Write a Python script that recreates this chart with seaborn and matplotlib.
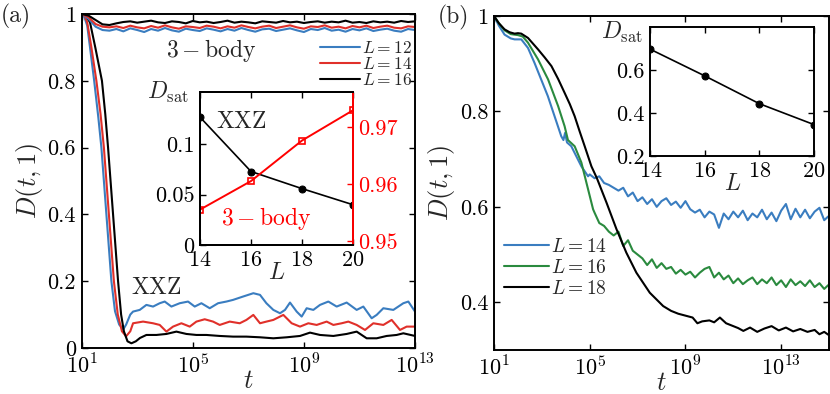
import numpy as np
import matplotlib
matplotlib.use("Agg")
import matplotlib.pyplot as plt
import seaborn as sns

# ---- panel (a): XXZ curves (log10 t, D) ----
lg_xxz12 = [1.0, 1.1, 1.2, 1.3, 1.45, 1.6, 1.71, 1.8, 1.89, 1.98, 2.07, 2.2, 2.35, 2.5, 2.6, 2.75,
            2.85, 3.09, 3.33, 3.57, 3.81, 3.99, 4.23, 4.53, 4.83, 5.07, 5.31, 5.61, 5.91, 6.21, 6.45,
            6.81, 7.18, 7.42, 7.65, 7.90, 8.14, 8.32, 8.50, 8.74, 8.92, 9.10, 9.34, 9.58, 9.88, 10.18,
            10.54, 10.90, 11.14, 11.44, 11.62, 11.86, 12.22, 12.58, 12.76, 13.0]
d_xxz12 = [1.0, 0.99, 0.965, 0.9, 0.8, 0.69, 0.6, 0.5, 0.4, 0.3, 0.2, 0.11, 0.07, 0.056, 0.07, 0.1,
           0.109, 0.114, 0.129, 0.124, 0.134, 0.139, 0.124, 0.134, 0.139, 0.124, 0.134, 0.119, 0.134,
           0.139, 0.144, 0.154, 0.164, 0.159, 0.134, 0.114, 0.104, 0.114, 0.136, 0.109, 0.094, 0.119,
           0.114, 0.129, 0.139, 0.124, 0.136, 0.114, 0.124, 0.089, 0.099, 0.119, 0.114, 0.134, 0.139,
           0.109]

lg_xxz14 = [1.0, 1.1, 1.2, 1.35, 1.53, 1.68, 1.80, 1.89, 1.98, 2.07, 2.16, 2.3, 2.45, 2.6, 2.75,
            2.85, 3.21, 3.57, 3.81, 4.05, 4.29, 4.59, 4.89, 5.13, 5.43, 5.73, 5.97, 6.33, 6.69, 6.93,
            7.18, 7.42, 7.65, 7.90, 8.26, 8.56, 8.86, 9.16, 9.46, 9.82, 10.06, 10.36, 10.60, 10.90,
            11.20, 11.50, 11.86, 12.16, 12.46, 12.70, 13.0]
d_xxz14 = [1.0, 0.995, 0.975, 0.9, 0.8, 0.7, 0.6, 0.5, 0.4, 0.3, 0.2, 0.1, 0.05, 0.035, 0.05,
           0.074, 0.079, 0.074, 0.069, 0.049, 0.064, 0.074, 0.064, 0.079, 0.086, 0.079, 0.069, 0.079,
           0.074, 0.084, 0.099, 0.074, 0.079, 0.084, 0.099, 0.074, 0.064, 0.074, 0.069, 0.079, 0.069,
           0.074, 0.079, 0.069, 0.054, 0.074, 0.069, 0.084, 0.054, 0.064, 0.064]

lg_xxz16 = [1.0, 1.15, 1.3, 1.49, 1.73, 1.85, 1.95, 2.04, 2.13, 2.22, 2.31, 2.42, 2.52, 2.65, 2.79,
            2.95, 3.1, 3.33, 3.69, 4.05, 4.41, 4.77, 5.13, 5.49, 5.97, 6.45, 6.93, 7.42, 7.90, 8.38,
            8.86, 9.22, 9.58, 10.06, 10.54, 10.90, 11.26, 11.62, 11.98, 12.34, 12.58, 13.0]
d_xxz16 = [1.0, 0.995, 0.975, 0.9, 0.8, 0.7, 0.6, 0.5, 0.4, 0.3, 0.2, 0.1, 0.05, 0.02, 0.014,
           0.02, 0.03, 0.039, 0.039, 0.042, 0.049, 0.042, 0.039, 0.039, 0.036, 0.034, 0.034, 0.032,
           0.029, 0.032, 0.036, 0.046, 0.039, 0.036, 0.042, 0.049, 0.029, 0.029, 0.036, 0.039, 0.044,
           0.036]

# ---- panel (a): 3-body curves ----
lg_3b = [1.0, 1.25, 1.5, 1.75, 2.0, 2.25, 2.5, 2.75, 3.0, 3.25, 3.5, 3.75, 4.0, 4.25, 4.5, 4.75,
         5.0, 5.25, 5.5, 5.75, 6.0, 6.25, 6.5, 6.75, 7.0, 7.25, 7.5, 7.75, 8.0, 8.25, 8.5, 8.75,
         9.0, 9.25, 9.5, 9.75, 10.0, 10.25, 10.5, 10.75, 11.0, 11.25, 11.5, 11.75, 12.0, 12.25,
         12.5, 12.75, 13.0]
d_3b12 = [1.0, 0.985, 0.962, 0.952, 0.950, 0.955, 0.948, 0.957, 0.952, 0.946, 0.955, 0.950, 0.958,
          0.951, 0.947, 0.956, 0.952, 0.949, 0.957, 0.953, 0.948, 0.955, 0.950, 0.958, 0.952, 0.947,
          0.954, 0.956, 0.949, 0.953, 0.957, 0.951, 0.946, 0.955, 0.952, 0.958, 0.950, 0.953, 0.947,
          0.955, 0.951, 0.957, 0.949, 0.953, 0.956, 0.950, 0.947, 0.955, 0.952]
d_3b14 = [1.0, 0.99, 0.970, 0.962, 0.960, 0.963, 0.958, 0.965, 0.960, 0.957, 0.964, 0.959, 0.966,
          0.960, 0.956, 0.963, 0.961, 0.958, 0.965, 0.962, 0.957, 0.963, 0.959, 0.966, 0.961, 0.957,
          0.962, 0.965, 0.958, 0.962, 0.966, 0.960, 0.956, 0.963, 0.961, 0.966, 0.959, 0.962, 0.957,
          0.964, 0.960, 0.965, 0.958, 0.962, 0.965, 0.959, 0.957, 0.963, 0.961]
d_3b16 = [1.0, 0.995, 0.982, 0.969, 0.967, 0.972, 0.976, 0.978, 0.974, 0.977, 0.980, 0.975, 0.973,
          0.978, 0.976, 0.972, 0.979, 0.975, 0.977, 0.973, 0.976, 0.980, 0.974, 0.977, 0.975, 0.972,
          0.978, 0.976, 0.974, 0.979, 0.975, 0.977, 0.973, 0.976, 0.978, 0.974, 0.977, 0.975, 0.980,
          0.974, 0.976, 0.973, 0.978, 0.975, 0.977, 0.974, 0.979, 0.976, 0.978]

# ---- inset (a) ----
L_inset_a = [14, 16, 18, 20]
dsat_xxz = [0.127, 0.073, 0.056, 0.040]
dsat_3b = [0.9555, 0.9605, 0.9676, 0.9729]

# ---- panel (b) ----
lg_b14 = [1.0, 1.2, 1.44, 1.7, 1.86, 2.14, 2.42, 2.69, 2.97, 3.25, 3.53, 3.81, 3.9, 3.97, 4.05,
          4.23, 4.37, 4.65, 4.93,
          5.0, 5.2, 5.4, 5.6, 5.8, 6.0, 6.2, 6.4, 6.6, 6.8, 7.0, 7.2, 7.4, 7.6, 7.8, 8.0, 8.2, 8.4,
          8.6, 8.8, 9.0, 9.2, 9.4, 9.6, 9.8, 10.0, 10.2, 10.4, 10.6, 10.8, 11.0, 11.2, 11.4, 11.6,
          11.8, 12.0, 12.2, 12.4, 12.6, 12.8, 13.0, 13.2, 13.4, 13.6, 13.8, 14.0, 14.2, 14.4, 14.6,
          14.8, 14.97]
d_b14 = [1.0, 0.98, 0.961, 0.953, 0.951, 0.951, 0.933, 0.902, 0.867, 0.832, 0.79, 0.748, 0.74,
         0.755, 0.735, 0.727, 0.713, 0.685, 0.664,
         0.668, 0.660, 0.664, 0.650, 0.646, 0.640, 0.634, 0.640, 0.622, 0.630, 0.612, 0.620, 0.606,
         0.616, 0.600, 0.612, 0.618, 0.604, 0.611, 0.598, 0.612, 0.595, 0.588, 0.594, 0.578, 0.590,
         0.584, 0.556, 0.586, 0.574, 0.590, 0.578, 0.592, 0.572, 0.586, 0.578, 0.594, 0.574, 0.588,
         0.570, 0.592, 0.606, 0.574, 0.596, 0.578, 0.594, 0.576, 0.590, 0.598, 0.572, 0.580]

lg_b16 = [1.0, 1.2, 1.44, 1.7, 2.0, 2.2, 2.42, 2.84, 3.26, 3.68, 3.95, 4.09, 4.37, 4.65, 4.93,
          5.14,
          5.2, 5.4, 5.6, 5.8, 6.0, 6.2, 6.4, 6.6, 6.8, 7.0, 7.2, 7.4, 7.6, 7.8, 8.0, 8.2, 8.4, 8.6,
          8.8, 9.0, 9.2, 9.4, 9.6, 9.8, 10.0, 10.2, 10.4, 10.6, 10.8, 11.0, 11.2, 11.4, 11.6, 11.8,
          12.0, 12.2, 12.4, 12.6, 12.8, 13.0, 13.2, 13.4, 13.6, 13.8, 14.0, 14.2, 14.4, 14.6, 14.8,
          14.97]
d_b16 = [1.0, 0.985, 0.97, 0.962, 0.96, 0.957, 0.944, 0.909, 0.867, 0.811, 0.769, 0.74, 0.727,
         0.693, 0.637, 0.595,
         0.588, 0.566, 0.560, 0.548, 0.540, 0.548, 0.518, 0.530, 0.508, 0.500, 0.492, 0.478, 0.490,
         0.472, 0.482, 0.470, 0.474, 0.460, 0.468, 0.458, 0.464, 0.452, 0.462, 0.470, 0.474, 0.452,
         0.462, 0.448, 0.456, 0.440, 0.450, 0.438, 0.446, 0.452, 0.438, 0.448, 0.440, 0.452, 0.436,
         0.446, 0.432, 0.448, 0.436, 0.444, 0.434, 0.446, 0.432, 0.440, 0.428, 0.436]

lg_b18 = [1.0, 1.2, 1.44, 1.65, 1.86, 2.0, 2.14, 2.42, 2.84, 3.12, 3.40, 3.68, 3.95, 4.17, 4.37,
          4.58, 4.79, 5.07, 5.30, 5.70, 6.12, 6.53, 6.95, 7.51, 8.07, 8.4, 8.7, 9.0, 9.3, 9.5, 9.7,
          10.0, 10.2, 10.44, 10.7, 10.9, 11.2, 11.42, 11.7, 12.0, 12.3, 12.6, 12.9, 13.2, 13.5, 13.8,
          14.1, 14.4, 14.6, 14.8, 14.97]
d_b18 = [1.0, 0.985, 0.972, 0.966, 0.963, 0.964, 0.963, 0.954, 0.930, 0.913, 0.895, 0.868, 0.839,
         0.815, 0.79, 0.758, 0.727, 0.685, 0.66, 0.609, 0.553, 0.504, 0.462, 0.420, 0.392, 0.382,
         0.376, 0.372, 0.368, 0.356, 0.360, 0.362, 0.358, 0.368, 0.356, 0.352, 0.346, 0.340, 0.347,
         0.338, 0.345, 0.350, 0.341, 0.347, 0.339, 0.344, 0.338, 0.342, 0.333, 0.338, 0.332]

# ---- inset (b) ----
L_inset_b = [14, 16, 18, 20]
dsat_b = [0.696, 0.572, 0.443, 0.346]

BLUE = "#3a7dc0"
RED = "#e0302a"
GREEN = "#2a8a3e"

sns.set_theme(style="ticks")
plt.rcParams["font.family"] = "serif"
plt.rcParams["font.serif"] = ["cmr10", "DejaVu Serif"]
plt.rcParams["mathtext.fontset"] = "cm"
plt.rcParams["axes.formatter.use_mathtext"] = True
plt.rcParams["axes.linewidth"] = 1.4
plt.rcParams["axes.edgecolor"] = "black"

TICK_FS = 16
LAB_FS = 19
ANN_FS = 17

fig = plt.figure(figsize=(8.3, 3.94), dpi=100)


def style_axes(ax, fs=TICK_FS):
    ax.tick_params(direction="in", top=True, right=True, length=4, width=1,
                   labelsize=fs, colors="black", pad=4)
    ax.minorticks_off()


def logline(ax, lg, d, color, label=None, lw=1.5):
    t = 10 ** np.array(lg)
    sns.lineplot(x=t, y=d, ax=ax, color=color, lw=lw, label=label,
                 estimator=None, sort=False)


# ================= panel (a) =================
ax1 = fig.add_axes([0.0984, 0.1168, 0.4016, 0.8477])
logline(ax1, lg_xxz12, d_xxz12, BLUE, "$L=12$")
logline(ax1, lg_xxz14, d_xxz14, RED, "$L=14$")
logline(ax1, lg_xxz16, d_xxz16, "black", "$L=16$")
logline(ax1, lg_3b, d_3b12, BLUE)
logline(ax1, lg_3b, d_3b14, RED)
logline(ax1, lg_3b, d_3b16, "black")
ax1.set_xscale("log")
ax1.set_xlim(1e1, 1e13)
ax1.set_ylim(0, 1)
ax1.set_xticks([1e1, 1e5, 1e9, 1e13])
ax1.set_xticklabels(["$10^{1}$", "$10^{5}$", "$10^{9}$", "$10^{13}$"])
ax1.set_yticks([0, 0.2, 0.4, 0.6, 0.8, 1])
ax1.set_yticklabels(["0", "0.2", "0.4", "0.6", "0.8", "1"])
style_axes(ax1)
ax1.set_xlabel("$t$", fontsize=LAB_FS, labelpad=-6)
ax1.set_ylabel("$D(t,1)$", fontsize=LAB_FS, labelpad=2)
ax1.text(10 ** 5.68, 0.892, "$3-\\mathrm{body}$", fontsize=ANN_FS, ha="center", va="center")
ax1.text(10 ** 3.67, 0.18, "$\\mathrm{XXZ}$", fontsize=ANN_FS, ha="center", va="center")
leg = ax1.legend(loc="upper right", bbox_to_anchor=(412 / 830, 1 - 40 / 394),
                 bbox_transform=fig.transFigure, frameon=False, fontsize=12.5,
                 handlelength=2.3, handletextpad=0.1, labelspacing=0.0, borderpad=0,
                 borderaxespad=0)

# inset (a)
ins1 = fig.add_axes([0.2410, 0.3782, 0.1843, 0.3883])
sns.lineplot(x=L_inset_a, y=dsat_xxz, ax=ins1, color="black", marker="o", markersize=5,
             markeredgecolor="black", lw=1.2, estimator=None)
ins1.set_xlim(14, 20)
ins1.set_ylim(0, 0.152)
ins1.set_xticks([14, 16, 18, 20])
ins1.set_yticks([0, 0.05, 0.1])
ins1.set_yticklabels(["0", "0.05", "0.1"])
style_axes(ins1)
ins1.tick_params(right=False)
ins1.set_xlabel("$L$", fontsize=LAB_FS - 2, labelpad=-6)
ins1.set_ylabel("")
ins1.text(0.268, 0.804, "$\\mathrm{XXZ}$", transform=ins1.transAxes, fontsize=ANN_FS,
          ha="center", va="center")
ins1.text(0.431, 0.176, "$3-\\mathrm{body}$", transform=ins1.transAxes, fontsize=ANN_FS,
          ha="center", va="center", color="red")

ins1r = ins1.twinx()
sns.lineplot(x=L_inset_a, y=dsat_3b, ax=ins1r, color="red", marker="s", markersize=5,
             markerfacecolor="none", markeredgecolor="red", markeredgewidth=1.2, lw=1.4,
             estimator=None)
ins1r.set_ylim(0.9493, 0.9761)
ins1r.set_yticks([0.95, 0.96, 0.97])
ins1r.set_yticklabels(["0.95", "0.96", "0.97"])
ins1r.tick_params(axis="y", direction="in", length=4, width=1, colors="red",
                  labelsize=TICK_FS, pad=4)
ins1r.minorticks_off()
ins1r.spines["right"].set_color("red")
ins1r.set_ylabel("")
fig.text(168 / 830, 1 - 92 / 394, "$D_{\\mathrm{sat}}$", fontsize=ANN_FS, ha="center",
         va="center")

# ================= panel (b) =================
ax2 = fig.add_axes([0.5952, 0.1117, 0.4036, 0.8477])
logline(ax2, lg_b14, d_b14, BLUE, "$L=14$")
logline(ax2, lg_b16, d_b16, GREEN, "$L=16$")
logline(ax2, lg_b18, d_b18, "black", "$L=18$")
ax2.set_xscale("log")
ax2.set_xlim(1e1, 1e15)
ax2.set_ylim(0.3, 1)
ax2.set_xticks([1e1, 1e5, 1e9, 1e13])
ax2.set_xticklabels(["$10^{1}$", "$10^{5}$", "$10^{9}$", "$10^{13}$"])
ax2.set_yticks([0.4, 0.6, 0.8, 1])
ax2.set_yticklabels(["0.4", "0.6", "0.8", "1"])
style_axes(ax2)
ax2.set_xlabel("$t$", fontsize=LAB_FS, labelpad=-6)
ax2.set_ylabel("$D(t,1)$", fontsize=LAB_FS, labelpad=2)
ax2.legend(loc="upper left", bbox_to_anchor=(504 / 830, 1 - 238 / 394),
           bbox_transform=fig.transFigure, frameon=False, fontsize=14,
           handlelength=2.3, handletextpad=0.1, labelspacing=0.15, borderpad=0,
           borderaxespad=0)

# inset (b)
ins2 = fig.add_axes([0.7837, 0.6041, 0.1970, 0.3274])
sns.lineplot(x=L_inset_b, y=dsat_b, ax=ins2, color="black", marker="o", markersize=5,
             markeredgecolor="black", lw=1.2, estimator=None)
ins2.set_xlim(14, 20)
ins2.set_ylim(0.2, 0.8)
ins2.set_xticks([14, 16, 18, 20])
ins2.set_yticks([0.2, 0.4, 0.6])
ins2.set_yticklabels(["0.2", "0.4", "0.6"])
style_axes(ins2)
ins2.set_xlabel("$L$", fontsize=LAB_FS - 2, labelpad=-6)
ins2.set_ylabel("")
fig.text(622 / 830, 1 - 32 / 394, "$D_{\\mathrm{sat}}$", fontsize=ANN_FS, ha="center",
         va="center")

fig.text(16 / 830, 1 - 16 / 394, "(a)", fontsize=ANN_FS, ha="center", va="center")
fig.text(453 / 830, 1 - 17 / 394, "(b)", fontsize=ANN_FS, ha="center", va="center")

fig.savefig("out.png", dpi=100)
